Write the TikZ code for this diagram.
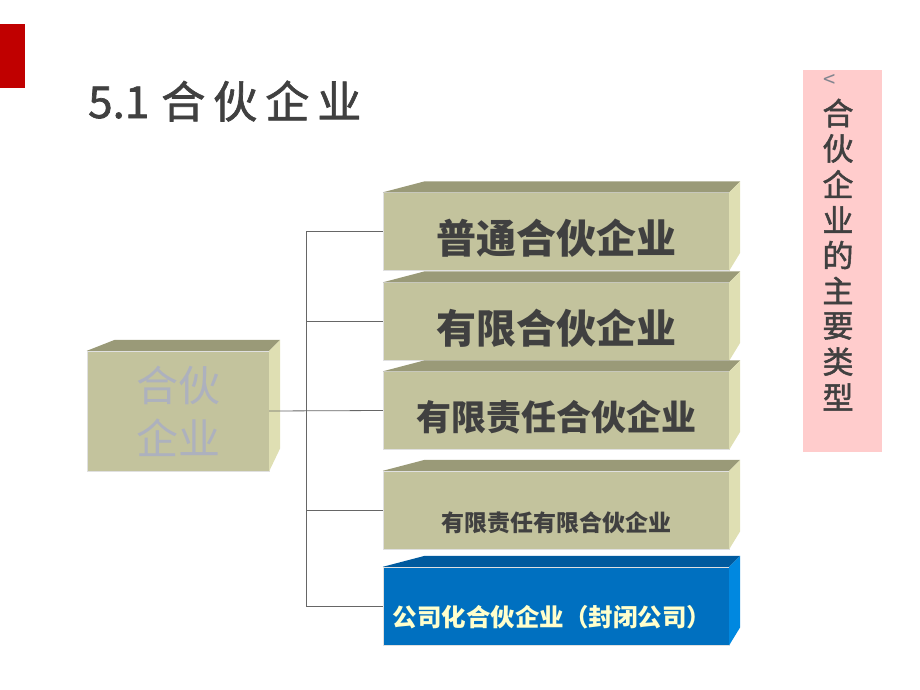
\documentclass[tikz,border=0pt]{standalone}
\usepackage{fontspec}
\setmainfont{Noto Sans CJK SC}
\newfontfamily\titlefont[FakeBold=1.6]{Noto Sans CJK SC}
\usepackage{xcolor}
\usepackage{tikz}
\usetikzlibrary{calc}
\definecolor{ink}{HTML}{404040}
\definecolor{redbar}{HTML}{C00000}
\definecolor{pinkbar}{HTML}{FFCCCC}
\definecolor{olive}{HTML}{C3C39D}
\definecolor{olivetop}{HTML}{9A9A78}
\definecolor{oliveside}{HTML}{DFDFB3}
\definecolor{blue}{HTML}{0070C0}
\definecolor{bluetop}{HTML}{005A9E}
\definecolor{blueside}{HTML}{0088E0}
\definecolor{paleink}{HTML}{ADB1BE}
\definecolor{paleyellow}{HTML}{FFFFCC}
\tikzset{
  front/.style={rectangle, fill=olive, draw=black!12, line width=0.4pt, inner sep=0pt},
  slabbox/.style={front, minimum width=346, minimum height=78},
  link/.style={draw=black!60, line width=0.8pt},
  boxtxt/.style={text=ink, font=\bfseries\fontsize{40}{44}\selectfont, inner sep=0pt},
  vchar/.style={text=ink, font=\titlefont\fontsize{31}{34}\selectfont, inner sep=0pt}
}
% top and side faces of a slab: node, top colour, side colour, top shift, side drop
\newcommand{\slab}[5]{%
  \fill[#2] (#1.north west) -- ++(#4,-11) -- ($(#1.north east)+(11,-11)$) -- (#1.north east) -- cycle;
  \fill[#3] (#1.north east) -- ++(11,-11) -- ($(#1.south east)+(11,-#5)$) -- (#1.south east) -- cycle;}

\begin{document}
\begin{tikzpicture}[x=1pt,y=-1pt]
  \useasboundingbox (0,0) rectangle (920,690);

  % header
  \fill[redbar] (0,24) rectangle (25,88);
  \node[anchor=base west, inner sep=0pt, text=ink, font=\titlefont\fontsize{44}{50}\selectfont] (title) at (88,118)
    {5.1\hspace{12pt}合\hspace{8pt}伙\hspace{8pt}企\hspace{8pt}业};

  % side bar
  \fill[pinkbar] (803,70) rectangle (882,452);
  \node[text=black!25!paleink, font=\fontsize{22}{22}\selectfont, inner sep=0pt] (lt) at (830,81) {<};
  \foreach \c [count=\i] in {合,伙,企,业,的,主,要,类,型}
    \node[vchar] (v\i) at (838,{113+35.5*(\i-1)}) {\c};

  % left box
  \node[front, minimum width=182, minimum height=120] (lb) at (178,411) {};
  \slab{lb}{olivetop}{oliveside}{28}{23}
  \node[text=paleink, align=center, font=\fontsize{42}{53}\selectfont, inner sep=0pt] (lbt) at (178,411) {合伙\\企业};

  % right boxes
  \node[slabbox] (b1) at (556,231.5) {};
  \node[slabbox] (b2) at (556,321.5) {};
  \node[slabbox] (b3) at (556,410.5) {};
  \node[slabbox] (b4) at (556,510) {};
  \node[slabbox, fill=blue] (b5) at (556,606) {};
  \slab{b1}{olivetop}{oliveside}{42}{18}
  \slab{b2}{olivetop}{oliveside}{42}{18}
  \slab{b3}{olivetop}{oliveside}{42}{18}
  \slab{b4}{olivetop}{oliveside}{42}{18}
  \slab{b5}{bluetop}{blueside}{42}{18}

  \node[boxtxt] (t1) at ($(b1)+(0,7)$) {普通合伙企业};
  \node[boxtxt] (t2) at ($(b2)+(0,7)$) {有限合伙企业};
  \node[boxtxt, font=\bfseries\fontsize{35}{40}\selectfont] (t3) at ($(b3)+(0,7)$) {有限责任合伙企业};
  \node[boxtxt, font=\bfseries\fontsize{23}{26}\selectfont] (t4) at ($(b4)+(0,13)$) {有限责任有限合伙企业};
  \node[boxtxt, text=paleyellow, font=\bfseries\fontsize{24.5}{28}\selectfont] (t5) at ($(b5)+(-4,11)$) {公司化合伙企业（封闭公司）};

  % connectors
  \coordinate (hub) at (306,411);
  \draw[link] (lb.east) -- (b3.west);
  \draw[link] (hub) |- (b1.west);
  \draw[link] (hub) |- (b2.west);
  \draw[link] (hub) |- (b4.west);
  \draw[link] (hub) |- (b5.west);
\end{tikzpicture}
\end{document}
